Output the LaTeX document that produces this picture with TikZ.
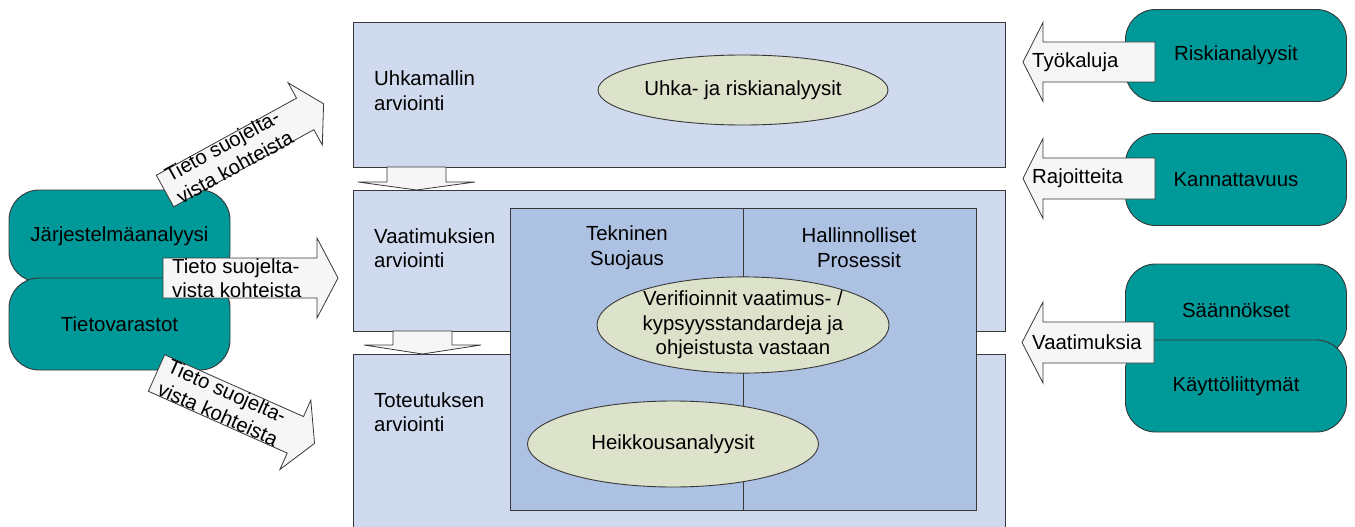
\documentclass[tikz,border=0pt]{standalone}
\usepackage{fontspec}
\setmainfont{Liberation Sans}
\usepackage{tikz}
\usetikzlibrary{shapes.geometric}
\definecolor{EvalPaleBlue}{HTML}{CFDAEE}
\definecolor{EvalMidBlue}{HTML}{ADC1E3}
\definecolor{EvalTeal}{HTML}{009999}
\definecolor{EvalOlive}{HTML}{DDE2CB}
\definecolor{EvalLine}{HTML}{383838}
\definecolor{EvalArrowFill}{HTML}{F6F6F6}
\newcommand\evalfont{\fontsize{20.4}{24.5}\selectfont}
\tikzset{
  evalbox/.style={draw=EvalLine,fill=EvalPaleBlue,line width=0.9pt,
    anchor=north west,inner sep=0pt},
  corebox/.style={evalbox,fill=EvalMidBlue},
  srcbox/.style={draw=EvalLine,fill=EvalTeal,line width=0.9pt,rounded corners=30pt,
    minimum width=221pt,minimum height=92pt,font=\evalfont},
  taskoval/.style={ellipse,draw=EvalLine,fill=EvalOlive,line width=0.9pt,
    inner sep=0pt,align=center,font=\evalfont},
  blockarrow/.style={draw=EvalLine,fill=EvalArrowFill,line width=0.8pt,line join=miter},
  elabel/.style={font=\evalfont,align=left,inner sep=0pt}
}
% block arrow: name, tail centre, angle, shaft length, shaft half width,
% head half width, head length, text offset, text
\newcommand\blockarrow[9]{%
  \begin{scope}[shift={#2},rotate=#3]
    \draw[blockarrow] (0,-#5) -- (#4,-#5) -- (#4,-#6) -- ++(#7,#6)
      -- (#4,#6) -- (#4,#5) -- (0,#5) -- cycle;
    \node[elabel,anchor=west,rotate=#3] (#1) at (#8,0) {#9};
  \end{scope}}

\begin{document}
\begin{tikzpicture}[x=1pt,y=-1pt]
  \clip (0,0) rectangle (1355,527);

  % assessment stages
  \node[evalbox,minimum width=652pt,minimum height=145pt] (threat) at (353,22) {};
  \node[evalbox,minimum width=652pt,minimum height=141pt] (req) at (353,190) {};
  \node[evalbox,minimum width=652pt,minimum height=190pt] (impl) at (353,354) {};

  \blockarrow{down1}{(416.5,167)}{-90}{15}{29.5}{58.5}{8}{0}{}
  \blockarrow{down2}{(422.5,331)}{-90}{14}{29.5}{58.5}{9}{0}{}

  \node[corebox,minimum width=466pt,minimum height=302pt] (core) at (510,208) {};
  \draw[EvalLine,line width=0.9pt] (core.north) -- (core.south);

  \node[elabel,anchor=west] (threatlbl) at (374,90.5) {Uhkamallin\\arviointi};
  \node[elabel,anchor=west] (reqlbl) at (374,248) {Vaatimuksien\\arviointi};
  \node[elabel,anchor=west] (impllbl) at (374,412) {Toteutuksen\\arviointi};
  \node[elabel,align=center] (techlbl) at (627,247.5) {Tekninen\\Suojaus};
  \node[elabel,align=center] (adminlbl) at (859,247.5) {Hallinnolliset\\Prosessit};

  \node[taskoval,minimum width=290pt,minimum height=70pt] (riskoval) at (743,90)
    {Uhka- ja riskianalyysit};
  \node[taskoval,minimum width=292pt,minimum height=94pt] (verifyoval) at (743,325)
    {Verifioinnit vaatimus- /\\kypsyysstandardeja ja\\ohjeistusta vastaan};
  \node[taskoval,minimum width=291pt,minimum height=86pt] (weakoval) at (673,444)
    {Heikkousanalyysit};

  % sources on the left
  \node[srcbox] (sysan) at (119.5,236) {Järjestelmäanalyysi};
  \node[srcbox] (datastore) at (119.5,324) {Tietovarastot};

  \blockarrow{infoup}{(165,191)}{28.8}{160}{18}{35.5}{21}{8}{Tieto suojelta-\\vista kohteista}
  \blockarrow{infomid}{(163,278)}{0}{154}{20}{40}{21}{9}{Tieto suojelta-\\vista kohteista}
  \blockarrow{infodown}{(156.5,373)}{-24}{152}{20}{38}{21}{8}{Tieto suojelta-\\vista kohteista}

  % sources on the right
  \node[srcbox] (riskan) at (1236,55.5) {Riskianalyysit};
  \node[srcbox] (profit) at (1236,179.5) {Kannattavuus};
  \node[srcbox] (rules) at (1236,310) {Säännökset};
  \node[srcbox] (ui) at (1236,386) {Käyttöliittymät};

  \blockarrow{tools}{(1155,62)}{0}{-112}{20}{39.5}{-20}{-123}{Työkaluja}
  \blockarrow{limits}{(1155,178.5)}{0}{-112}{20.5}{40}{-20}{-123}{Rajoitteita}
  \blockarrow{demands}{(1154,342.5)}{0}{-111}{20.5}{40.5}{-21}{-122}{Vaatimuksia}
\end{tikzpicture}
\end{document}
